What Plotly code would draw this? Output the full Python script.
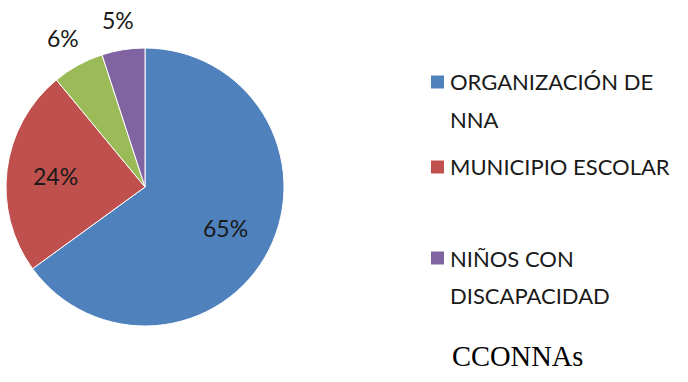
import math
import plotly.graph_objects as go

# ---- data ----
labels = ["ORGANIZACIÓN DE NNA", "MUNICIPIO ESCOLAR", "OTROS", "NIÑOS CON DISCAPACIDAD"]
values = [65, 24, 6, 5]
colors = ["#4F81BD", "#C0504D", "#9BBB59", "#8064A2"]
label_inside = [True, True, False, False]
legend_lines = [["ORGANIZACIÓN DE", "NNA"], ["MUNICIPIO ESCOLAR"], None, ["NIÑOS CON", "DISCAPACIDAD"]]
title_text = "CCONNAs"

W, H = 688, 382
FONT = "Lato, 'Open Sans', sans-serif"
TXT = "#1a1a1a"

cx, cy, r = 145, 187, 139

fig = go.Figure()
fig.add_trace(go.Pie(
    labels=labels, values=values, sort=False, direction="clockwise", rotation=0,
    marker=dict(colors=colors, line=dict(color="#ffffff", width=1)),
    textinfo="none", hoverinfo="label+percent",
    showlegend=False, automargin=False,
    domain=dict(x=[(cx - r) / W, (cx + r) / W], y=[1 - (cy + r) / H, 1 - (cy - r) / H]),
))

shapes, annotations = [], []

# ---- percentage labels placed along each slice's mid-angle (Excel style) ----
total = sum(values)
acc = 0
for v, inside in zip(values, label_inside):
    mid = (acc + v / 2) / total * 2 * math.pi
    acc += v
    d = r * (0.65 if inside else 1.22)
    px = cx + d * math.sin(mid)
    py = cy - d * math.cos(mid)
    annotations.append(dict(text=f"{round(v / total * 100)}%", xref="paper", yref="paper",
                            x=px / W, y=1 - py / H, xanchor="center", yanchor="middle",
                            showarrow=False, font=dict(family=FONT, size=23, color=TXT)))

# ---- manual legend (green slice has no legend entry in the reference) ----
legend_y0 = [82, 167, None, 258]
line_gap = 37
for i, lines in enumerate(legend_lines):
    if lines is None:
        continue
    y0 = legend_y0[i]
    shapes.append(dict(type="rect", xref="paper", yref="paper",
                       x0=431 / W, x1=444 / W,
                       y0=1 - (y0 + 6.5) / H, y1=1 - (y0 - 6.5) / H,
                       fillcolor=colors[i], line=dict(width=0)))
    for j, ln in enumerate(lines):
        annotations.append(dict(text=ln, xref="paper", yref="paper",
                                x=448 / W, y=1 - (y0 + j * line_gap) / H,
                                xanchor="left", yanchor="middle", showarrow=False,
                                font=dict(family=FONT, size=22, color=TXT)))

annotations.append(dict(text=title_text, xref="paper", yref="paper",
                        x=517 / W, y=1 - 356 / H, xanchor="center", yanchor="middle",
                        showarrow=False,
                        font=dict(family="'Liberation Serif', 'Times New Roman', serif",
                                  size=28.5, color="#000000")))

fig.update_layout(width=W, height=H, margin=dict(l=0, r=0, t=0, b=0, autoexpand=False),
                  paper_bgcolor="#ffffff", plot_bgcolor="#ffffff", showlegend=False,
                  shapes=shapes, annotations=annotations)

fig.write_html("out.html")
